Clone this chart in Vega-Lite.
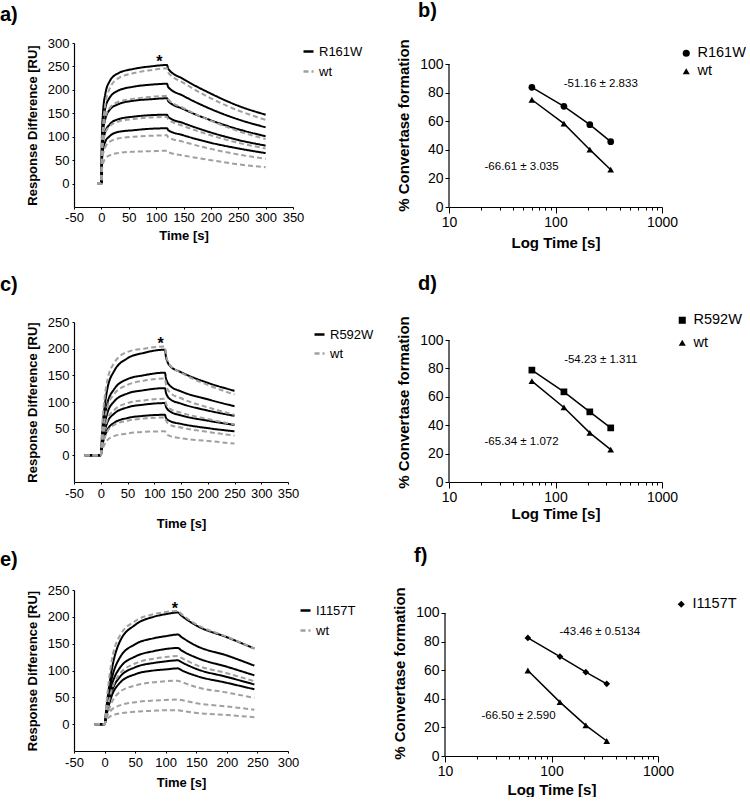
{
"$schema": "https://vega.github.io/schema/vega-lite/v6.json",
"background": "white",
"padding": {"left": 0, "top": 0, "right": 0, "bottom": 0},
"config": {
  "font": "Liberation Sans",
  "view": {"stroke": null},
  "axis": {"grid": false, "domainColor": "#000", "tickColor": "#000", "labelColor": "#000", "titleColor": "#000", "labelFont": "Liberation Sans", "titleFont": "Liberation Sans", "titleFontWeight": "bold", "labelFlush": false, "labelOverlap": false, "domainWidth": 1.2, "tickCount": 40},
  "legend": {"labelFont": "Liberation Sans", "labelColor": "#000"},
  "title": {"font": "Liberation Sans", "color": "#000"}
},
"datasets": {
"sprA": [
{"s":"R161W","c":"B1","t":-8,"v":0},{"s":"R161W","c":"B1","t":0,"v":0},{"s":"R161W","c":"B1","t":1,"v":101},{"s":"R161W","c":"B1","t":3,"v":152},{"s":"R161W","c":"B1","t":7,"v":190},{"s":"R161W","c":"B1","t":15,"v":218},{"s":"R161W","c":"B1","t":30,"v":235},{"s":"R161W","c":"B1","t":60,"v":245},{"s":"R161W","c":"B1","t":90,"v":250},{"s":"R161W","c":"B1","t":120,"v":253},{"s":"R161W","c":"B1","t":122,"v":245},{"s":"R161W","c":"B1","t":150,"v":223},{"s":"R161W","c":"B1","t":200,"v":192},{"s":"R161W","c":"B1","t":250,"v":166},{"s":"R161W","c":"B1","t":300,"v":147},
{"s":"R161W","c":"B2","t":-8,"v":0},{"s":"R161W","c":"B2","t":0,"v":0},{"s":"R161W","c":"B2","t":1,"v":85},{"s":"R161W","c":"B2","t":3,"v":128},{"s":"R161W","c":"B2","t":7,"v":160},{"s":"R161W","c":"B2","t":15,"v":183},{"s":"R161W","c":"B2","t":30,"v":198},{"s":"R161W","c":"B2","t":60,"v":207},{"s":"R161W","c":"B2","t":90,"v":211},{"s":"R161W","c":"B2","t":120,"v":213},{"s":"R161W","c":"B2","t":122,"v":206},{"s":"R161W","c":"B2","t":150,"v":187},{"s":"R161W","c":"B2","t":200,"v":159},{"s":"R161W","c":"B2","t":250,"v":137},{"s":"R161W","c":"B2","t":300,"v":120},
{"s":"R161W","c":"B3","t":-8,"v":0},{"s":"R161W","c":"B3","t":0,"v":0},{"s":"R161W","c":"B3","t":1,"v":73},{"s":"R161W","c":"B3","t":3,"v":109},{"s":"R161W","c":"B3","t":7,"v":137},{"s":"R161W","c":"B3","t":15,"v":157},{"s":"R161W","c":"B3","t":30,"v":169},{"s":"R161W","c":"B3","t":60,"v":177},{"s":"R161W","c":"B3","t":90,"v":180},{"s":"R161W","c":"B3","t":120,"v":182},{"s":"R161W","c":"B3","t":122,"v":176},{"s":"R161W","c":"B3","t":150,"v":159},{"s":"R161W","c":"B3","t":200,"v":135},{"s":"R161W","c":"B3","t":250,"v":116},{"s":"R161W","c":"B3","t":300,"v":101},
{"s":"R161W","c":"B4","t":-8,"v":0},{"s":"R161W","c":"B4","t":0,"v":0},{"s":"R161W","c":"B4","t":1,"v":59},{"s":"R161W","c":"B4","t":3,"v":88},{"s":"R161W","c":"B4","t":7,"v":110},{"s":"R161W","c":"B4","t":15,"v":126},{"s":"R161W","c":"B4","t":30,"v":137},{"s":"R161W","c":"B4","t":60,"v":143},{"s":"R161W","c":"B4","t":90,"v":146},{"s":"R161W","c":"B4","t":120,"v":147},{"s":"R161W","c":"B4","t":122,"v":142},{"s":"R161W","c":"B4","t":150,"v":129},{"s":"R161W","c":"B4","t":200,"v":109},{"s":"R161W","c":"B4","t":250,"v":93},{"s":"R161W","c":"B4","t":300,"v":81},
{"s":"R161W","c":"B5","t":-8,"v":0},{"s":"R161W","c":"B5","t":0,"v":0},{"s":"R161W","c":"B5","t":1,"v":47},{"s":"R161W","c":"B5","t":3,"v":71},{"s":"R161W","c":"B5","t":7,"v":89},{"s":"R161W","c":"B5","t":15,"v":101},{"s":"R161W","c":"B5","t":30,"v":110},{"s":"R161W","c":"B5","t":60,"v":114},{"s":"R161W","c":"B5","t":90,"v":117},{"s":"R161W","c":"B5","t":120,"v":118},{"s":"R161W","c":"B5","t":122,"v":114},{"s":"R161W","c":"B5","t":150,"v":103},{"s":"R161W","c":"B5","t":200,"v":87},{"s":"R161W","c":"B5","t":250,"v":75},{"s":"R161W","c":"B5","t":300,"v":65},
{"s":"wt","c":"G1","t":-8,"v":0},{"s":"wt","c":"G1","t":0,"v":0},{"s":"wt","c":"G1","t":1,"v":74},{"s":"wt","c":"G1","t":3,"v":123},{"s":"wt","c":"G1","t":7,"v":167},{"s":"wt","c":"G1","t":15,"v":202},{"s":"wt","c":"G1","t":30,"v":224},{"s":"wt","c":"G1","t":60,"v":236},{"s":"wt","c":"G1","t":90,"v":242},{"s":"wt","c":"G1","t":120,"v":246},{"s":"wt","c":"G1","t":122,"v":237},{"s":"wt","c":"G1","t":150,"v":215},{"s":"wt","c":"G1","t":200,"v":182},{"s":"wt","c":"G1","t":250,"v":156},{"s":"wt","c":"G1","t":300,"v":136},
{"s":"wt","c":"G2","t":-8,"v":0},{"s":"wt","c":"G2","t":0,"v":0},{"s":"wt","c":"G2","t":1,"v":75},{"s":"wt","c":"G2","t":3,"v":112},{"s":"wt","c":"G2","t":7,"v":140},{"s":"wt","c":"G2","t":15,"v":161},{"s":"wt","c":"G2","t":30,"v":174},{"s":"wt","c":"G2","t":60,"v":181},{"s":"wt","c":"G2","t":90,"v":185},{"s":"wt","c":"G2","t":120,"v":187},{"s":"wt","c":"G2","t":122,"v":180},{"s":"wt","c":"G2","t":150,"v":161},{"s":"wt","c":"G2","t":200,"v":134},{"s":"wt","c":"G2","t":250,"v":112},{"s":"wt","c":"G2","t":300,"v":95},
{"s":"wt","c":"G3","t":-8,"v":0},{"s":"wt","c":"G3","t":0,"v":0},{"s":"wt","c":"G3","t":1,"v":57},{"s":"wt","c":"G3","t":3,"v":85},{"s":"wt","c":"G3","t":7,"v":107},{"s":"wt","c":"G3","t":15,"v":122},{"s":"wt","c":"G3","t":30,"v":132},{"s":"wt","c":"G3","t":60,"v":138},{"s":"wt","c":"G3","t":90,"v":141},{"s":"wt","c":"G3","t":120,"v":142},{"s":"wt","c":"G3","t":122,"v":137},{"s":"wt","c":"G3","t":150,"v":123},{"s":"wt","c":"G3","t":200,"v":103},{"s":"wt","c":"G3","t":250,"v":87},{"s":"wt","c":"G3","t":300,"v":75},
{"s":"wt","c":"G4","t":-8,"v":0},{"s":"wt","c":"G4","t":0,"v":0},{"s":"wt","c":"G4","t":1,"v":41},{"s":"wt","c":"G4","t":3,"v":62},{"s":"wt","c":"G4","t":7,"v":77},{"s":"wt","c":"G4","t":15,"v":89},{"s":"wt","c":"G4","t":30,"v":96},{"s":"wt","c":"G4","t":60,"v":100},{"s":"wt","c":"G4","t":90,"v":102},{"s":"wt","c":"G4","t":120,"v":103},{"s":"wt","c":"G4","t":122,"v":99},{"s":"wt","c":"G4","t":150,"v":89},{"s":"wt","c":"G4","t":200,"v":74},{"s":"wt","c":"G4","t":250,"v":62},{"s":"wt","c":"G4","t":300,"v":53},
{"s":"wt","c":"G5","t":-8,"v":0},{"s":"wt","c":"G5","t":0,"v":0},{"s":"wt","c":"G5","t":1,"v":28},{"s":"wt","c":"G5","t":3,"v":42},{"s":"wt","c":"G5","t":7,"v":53},{"s":"wt","c":"G5","t":15,"v":60},{"s":"wt","c":"G5","t":30,"v":65},{"s":"wt","c":"G5","t":60,"v":68},{"s":"wt","c":"G5","t":90,"v":69},{"s":"wt","c":"G5","t":120,"v":70},{"s":"wt","c":"G5","t":122,"v":67},{"s":"wt","c":"G5","t":150,"v":60},{"s":"wt","c":"G5","t":200,"v":50},{"s":"wt","c":"G5","t":250,"v":41},{"s":"wt","c":"G5","t":300,"v":35}
],
"sprC": [
{"s":"R592W","c":"B1","t":-30,"v":0},{"s":"R592W","c":"B1","t":0,"v":0},{"s":"R592W","c":"B1","t":3,"v":50},{"s":"R592W","c":"B1","t":7,"v":89},{"s":"R592W","c":"B1","t":12,"v":123},{"s":"R592W","c":"B1","t":25,"v":158},{"s":"R592W","c":"B1","t":50,"v":182},{"s":"R592W","c":"B1","t":80,"v":192},{"s":"R592W","c":"B1","t":120,"v":198},{"s":"R592W","c":"B1","t":122,"v":184},{"s":"R592W","c":"B1","t":130,"v":167},{"s":"R592W","c":"B1","t":150,"v":156},{"s":"R592W","c":"B1","t":200,"v":136},{"s":"R592W","c":"B1","t":250,"v":121},
{"s":"R592W","c":"B2","t":-30,"v":0},{"s":"R592W","c":"B2","t":0,"v":0},{"s":"R592W","c":"B2","t":3,"v":39},{"s":"R592W","c":"B2","t":7,"v":70},{"s":"R592W","c":"B2","t":12,"v":96},{"s":"R592W","c":"B2","t":25,"v":124},{"s":"R592W","c":"B2","t":50,"v":143},{"s":"R592W","c":"B2","t":80,"v":150},{"s":"R592W","c":"B2","t":120,"v":155},{"s":"R592W","c":"B2","t":122,"v":144},{"s":"R592W","c":"B2","t":130,"v":130},{"s":"R592W","c":"B2","t":150,"v":120},{"s":"R592W","c":"B2","t":200,"v":105},{"s":"R592W","c":"B2","t":250,"v":92},
{"s":"R592W","c":"B3","t":-30,"v":0},{"s":"R592W","c":"B3","t":0,"v":0},{"s":"R592W","c":"B3","t":3,"v":32},{"s":"R592W","c":"B3","t":7,"v":57},{"s":"R592W","c":"B3","t":12,"v":78},{"s":"R592W","c":"B3","t":25,"v":101},{"s":"R592W","c":"B3","t":50,"v":116},{"s":"R592W","c":"B3","t":80,"v":122},{"s":"R592W","c":"B3","t":120,"v":126},{"s":"R592W","c":"B3","t":122,"v":117},{"s":"R592W","c":"B3","t":130,"v":105},{"s":"R592W","c":"B3","t":150,"v":97},{"s":"R592W","c":"B3","t":200,"v":84},{"s":"R592W","c":"B3","t":250,"v":74},
{"s":"R592W","c":"B4","t":-30,"v":0},{"s":"R592W","c":"B4","t":0,"v":0},{"s":"R592W","c":"B4","t":3,"v":25},{"s":"R592W","c":"B4","t":7,"v":44},{"s":"R592W","c":"B4","t":12,"v":61},{"s":"R592W","c":"B4","t":25,"v":78},{"s":"R592W","c":"B4","t":50,"v":90},{"s":"R592W","c":"B4","t":80,"v":95},{"s":"R592W","c":"B4","t":120,"v":98},{"s":"R592W","c":"B4","t":122,"v":91},{"s":"R592W","c":"B4","t":130,"v":82},{"s":"R592W","c":"B4","t":150,"v":75},{"s":"R592W","c":"B4","t":200,"v":65},{"s":"R592W","c":"B4","t":250,"v":57},
{"s":"R592W","c":"B5","t":-30,"v":0},{"s":"R592W","c":"B5","t":0,"v":0},{"s":"R592W","c":"B5","t":3,"v":19},{"s":"R592W","c":"B5","t":7,"v":34},{"s":"R592W","c":"B5","t":12,"v":47},{"s":"R592W","c":"B5","t":25,"v":61},{"s":"R592W","c":"B5","t":50,"v":70},{"s":"R592W","c":"B5","t":80,"v":74},{"s":"R592W","c":"B5","t":120,"v":76},{"s":"R592W","c":"B5","t":122,"v":70},{"s":"R592W","c":"B5","t":130,"v":64},{"s":"R592W","c":"B5","t":150,"v":59},{"s":"R592W","c":"B5","t":200,"v":51},{"s":"R592W","c":"B5","t":250,"v":45},
{"s":"wt","c":"G1","t":-30,"v":0},{"s":"wt","c":"G1","t":0,"v":0},{"s":"wt","c":"G1","t":3,"v":61},{"s":"wt","c":"G1","t":7,"v":106},{"s":"wt","c":"G1","t":12,"v":139},{"s":"wt","c":"G1","t":25,"v":173},{"s":"wt","c":"G1","t":50,"v":194},{"s":"wt","c":"G1","t":80,"v":200},{"s":"wt","c":"G1","t":120,"v":204},{"s":"wt","c":"G1","t":122,"v":188},{"s":"wt","c":"G1","t":130,"v":168},{"s":"wt","c":"G1","t":150,"v":155},{"s":"wt","c":"G1","t":200,"v":132},{"s":"wt","c":"G1","t":250,"v":114},
{"s":"wt","c":"G2","t":-30,"v":0},{"s":"wt","c":"G2","t":0,"v":0},{"s":"wt","c":"G2","t":3,"v":36},{"s":"wt","c":"G2","t":7,"v":65},{"s":"wt","c":"G2","t":12,"v":89},{"s":"wt","c":"G2","t":25,"v":115},{"s":"wt","c":"G2","t":50,"v":132},{"s":"wt","c":"G2","t":80,"v":140},{"s":"wt","c":"G2","t":120,"v":144},{"s":"wt","c":"G2","t":122,"v":132},{"s":"wt","c":"G2","t":130,"v":117},{"s":"wt","c":"G2","t":150,"v":107},{"s":"wt","c":"G2","t":200,"v":90},{"s":"wt","c":"G2","t":250,"v":76},
{"s":"wt","c":"G3","t":-30,"v":0},{"s":"wt","c":"G3","t":0,"v":0},{"s":"wt","c":"G3","t":3,"v":27},{"s":"wt","c":"G3","t":7,"v":48},{"s":"wt","c":"G3","t":12,"v":66},{"s":"wt","c":"G3","t":25,"v":85},{"s":"wt","c":"G3","t":50,"v":98},{"s":"wt","c":"G3","t":80,"v":103},{"s":"wt","c":"G3","t":120,"v":106},{"s":"wt","c":"G3","t":122,"v":97},{"s":"wt","c":"G3","t":130,"v":87},{"s":"wt","c":"G3","t":150,"v":80},{"s":"wt","c":"G3","t":200,"v":68},{"s":"wt","c":"G3","t":250,"v":58},
{"s":"wt","c":"G4","t":-30,"v":0},{"s":"wt","c":"G4","t":0,"v":0},{"s":"wt","c":"G4","t":3,"v":18},{"s":"wt","c":"G4","t":7,"v":32},{"s":"wt","c":"G4","t":12,"v":44},{"s":"wt","c":"G4","t":25,"v":57},{"s":"wt","c":"G4","t":50,"v":65},{"s":"wt","c":"G4","t":80,"v":69},{"s":"wt","c":"G4","t":120,"v":71},{"s":"wt","c":"G4","t":122,"v":65},{"s":"wt","c":"G4","t":130,"v":57},{"s":"wt","c":"G4","t":150,"v":52},{"s":"wt","c":"G4","t":200,"v":44},{"s":"wt","c":"G4","t":250,"v":37},
{"s":"wt","c":"G5","t":-30,"v":0},{"s":"wt","c":"G5","t":0,"v":0},{"s":"wt","c":"G5","t":3,"v":11},{"s":"wt","c":"G5","t":7,"v":20},{"s":"wt","c":"G5","t":12,"v":28},{"s":"wt","c":"G5","t":25,"v":36},{"s":"wt","c":"G5","t":50,"v":41},{"s":"wt","c":"G5","t":80,"v":44},{"s":"wt","c":"G5","t":120,"v":45},{"s":"wt","c":"G5","t":122,"v":41},{"s":"wt","c":"G5","t":130,"v":36},{"s":"wt","c":"G5","t":150,"v":32},{"s":"wt","c":"G5","t":200,"v":27},{"s":"wt","c":"G5","t":250,"v":22}
],
"sprE": [
{"s":"I1157T","c":"B1","t":-16,"v":0},{"s":"I1157T","c":"B1","t":0,"v":0},{"s":"I1157T","c":"B1","t":3,"v":31},{"s":"I1157T","c":"B1","t":10,"v":90},{"s":"I1157T","c":"B1","t":25,"v":154},{"s":"I1157T","c":"B1","t":50,"v":185},{"s":"I1157T","c":"B1","t":80,"v":200},{"s":"I1157T","c":"B1","t":100,"v":205},{"s":"I1157T","c":"B1","t":120,"v":208},{"s":"I1157T","c":"B1","t":125,"v":203},{"s":"I1157T","c":"B1","t":150,"v":184},{"s":"I1157T","c":"B1","t":200,"v":162},{"s":"I1157T","c":"B1","t":245,"v":141},
{"s":"I1157T","c":"B2","t":-16,"v":0},{"s":"I1157T","c":"B2","t":0,"v":0},{"s":"I1157T","c":"B2","t":3,"v":25},{"s":"I1157T","c":"B2","t":10,"v":75},{"s":"I1157T","c":"B2","t":25,"v":124},{"s":"I1157T","c":"B2","t":50,"v":149},{"s":"I1157T","c":"B2","t":80,"v":160},{"s":"I1157T","c":"B2","t":100,"v":164},{"s":"I1157T","c":"B2","t":120,"v":167},{"s":"I1157T","c":"B2","t":125,"v":163},{"s":"I1157T","c":"B2","t":150,"v":146},{"s":"I1157T","c":"B2","t":200,"v":128},{"s":"I1157T","c":"B2","t":245,"v":109},
{"s":"I1157T","c":"B3","t":-16,"v":0},{"s":"I1157T","c":"B3","t":0,"v":0},{"s":"I1157T","c":"B3","t":3,"v":21},{"s":"I1157T","c":"B3","t":10,"v":64},{"s":"I1157T","c":"B3","t":25,"v":105},{"s":"I1157T","c":"B3","t":50,"v":126},{"s":"I1157T","c":"B3","t":80,"v":136},{"s":"I1157T","c":"B3","t":100,"v":140},{"s":"I1157T","c":"B3","t":120,"v":142},{"s":"I1157T","c":"B3","t":125,"v":138},{"s":"I1157T","c":"B3","t":150,"v":124},{"s":"I1157T","c":"B3","t":200,"v":107},{"s":"I1157T","c":"B3","t":245,"v":91},
{"s":"I1157T","c":"B4","t":-16,"v":0},{"s":"I1157T","c":"B4","t":0,"v":0},{"s":"I1157T","c":"B4","t":3,"v":18},{"s":"I1157T","c":"B4","t":10,"v":54},{"s":"I1157T","c":"B4","t":25,"v":88},{"s":"I1157T","c":"B4","t":50,"v":106},{"s":"I1157T","c":"B4","t":80,"v":114},{"s":"I1157T","c":"B4","t":100,"v":117},{"s":"I1157T","c":"B4","t":120,"v":119},{"s":"I1157T","c":"B4","t":125,"v":116},{"s":"I1157T","c":"B4","t":150,"v":103},{"s":"I1157T","c":"B4","t":200,"v":88},{"s":"I1157T","c":"B4","t":245,"v":74},
{"s":"I1157T","c":"B5","t":-16,"v":0},{"s":"I1157T","c":"B5","t":0,"v":0},{"s":"I1157T","c":"B5","t":3,"v":16},{"s":"I1157T","c":"B5","t":10,"v":47},{"s":"I1157T","c":"B5","t":25,"v":77},{"s":"I1157T","c":"B5","t":50,"v":93},{"s":"I1157T","c":"B5","t":80,"v":100},{"s":"I1157T","c":"B5","t":100,"v":102},{"s":"I1157T","c":"B5","t":120,"v":104},{"s":"I1157T","c":"B5","t":125,"v":101},{"s":"I1157T","c":"B5","t":150,"v":90},{"s":"I1157T","c":"B5","t":200,"v":77},{"s":"I1157T","c":"B5","t":245,"v":65},
{"s":"wt","c":"G1","t":-16,"v":0},{"s":"wt","c":"G1","t":0,"v":0},{"s":"wt","c":"G1","t":3,"v":38},{"s":"wt","c":"G1","t":10,"v":106},{"s":"wt","c":"G1","t":25,"v":165},{"s":"wt","c":"G1","t":50,"v":192},{"s":"wt","c":"G1","t":80,"v":205},{"s":"wt","c":"G1","t":100,"v":209},{"s":"wt","c":"G1","t":120,"v":211},{"s":"wt","c":"G1","t":125,"v":206},{"s":"wt","c":"G1","t":150,"v":186},{"s":"wt","c":"G1","t":200,"v":163},{"s":"wt","c":"G1","t":245,"v":141},
{"s":"wt","c":"G2","t":-16,"v":0},{"s":"wt","c":"G2","t":0,"v":0},{"s":"wt","c":"G2","t":3,"v":19},{"s":"wt","c":"G2","t":10,"v":57},{"s":"wt","c":"G2","t":25,"v":94},{"s":"wt","c":"G2","t":50,"v":113},{"s":"wt","c":"G2","t":80,"v":122},{"s":"wt","c":"G2","t":100,"v":125},{"s":"wt","c":"G2","t":120,"v":127},{"s":"wt","c":"G2","t":125,"v":124},{"s":"wt","c":"G2","t":150,"v":110},{"s":"wt","c":"G2","t":200,"v":95},{"s":"wt","c":"G2","t":245,"v":80},
{"s":"wt","c":"G3","t":-16,"v":0},{"s":"wt","c":"G3","t":0,"v":0},{"s":"wt","c":"G3","t":3,"v":12},{"s":"wt","c":"G3","t":10,"v":36},{"s":"wt","c":"G3","t":25,"v":60},{"s":"wt","c":"G3","t":50,"v":72},{"s":"wt","c":"G3","t":80,"v":78},{"s":"wt","c":"G3","t":100,"v":80},{"s":"wt","c":"G3","t":120,"v":81},{"s":"wt","c":"G3","t":125,"v":79},{"s":"wt","c":"G3","t":150,"v":69},{"s":"wt","c":"G3","t":200,"v":59},{"s":"wt","c":"G3","t":245,"v":49},
{"s":"wt","c":"G4","t":-16,"v":0},{"s":"wt","c":"G4","t":0,"v":0},{"s":"wt","c":"G4","t":3,"v":12},{"s":"wt","c":"G4","t":10,"v":25},{"s":"wt","c":"G4","t":25,"v":35},{"s":"wt","c":"G4","t":50,"v":41},{"s":"wt","c":"G4","t":80,"v":44},{"s":"wt","c":"G4","t":100,"v":45},{"s":"wt","c":"G4","t":120,"v":46},{"s":"wt","c":"G4","t":125,"v":45},{"s":"wt","c":"G4","t":150,"v":39},{"s":"wt","c":"G4","t":200,"v":33},{"s":"wt","c":"G4","t":245,"v":27},
{"s":"wt","c":"G5","t":-16,"v":0},{"s":"wt","c":"G5","t":0,"v":0},{"s":"wt","c":"G5","t":3,"v":7},{"s":"wt","c":"G5","t":10,"v":15},{"s":"wt","c":"G5","t":25,"v":20},{"s":"wt","c":"G5","t":50,"v":23},{"s":"wt","c":"G5","t":80,"v":25},{"s":"wt","c":"G5","t":100,"v":26},{"s":"wt","c":"G5","t":120,"v":26},{"s":"wt","c":"G5","t":125,"v":25},{"s":"wt","c":"G5","t":150,"v":21},{"s":"wt","c":"G5","t":200,"v":17},{"s":"wt","c":"G5","t":245,"v":13}
],
"kinB": [
{"s":"R161W","t":60,"v":83.7},{"s":"R161W","t":120,"v":70.4},{"s":"R161W","t":210,"v":57.6},{"s":"R161W","t":330,"v":45.7},
{"s":"wt","t":60,"v":75},{"s":"wt","t":120,"v":58.3},{"s":"wt","t":210,"v":40.1},{"s":"wt","t":330,"v":26.1}
],
"kinD": [
{"s":"R592W","t":60,"v":78.8},{"s":"R592W","t":120,"v":63.5},{"s":"R592W","t":210,"v":49.4},{"s":"R592W","t":330,"v":38.1},
{"s":"wt","t":60,"v":71},{"s":"wt","t":120,"v":52.5},{"s":"wt","t":210,"v":34.6},{"s":"wt","t":330,"v":22.8}
],
"kinF": [
{"s":"I1157T","t":60,"v":82.6},{"s":"I1157T","t":120,"v":69.5},{"s":"I1157T","t":210,"v":58.6},{"s":"I1157T","t":330,"v":50.5},
{"s":"wt","t":60,"v":59.8},{"s":"wt","t":120,"v":37.7},{"s":"wt","t":210,"v":21.4},{"s":"wt","t":330,"v":10.5}
],
"yaxisLine": [{"x": 10, "y": 0, "y2": 100}]
},
"resolve": {"scale": {"x": "independent", "y": "independent", "color": "independent", "strokeDash": "independent", "shape": "independent"}, "legend": {"color": "independent", "strokeDash": "independent", "shape": "independent"}},
"spacing": 15,
"vconcat": [
{
 "spacing": 33,
 "resolve": {"scale": {"x": "independent", "y": "independent", "color": "independent", "strokeDash": "independent", "shape": "independent"}, "legend": {"color": "independent", "strokeDash": "independent", "shape": "independent"}},
 "hconcat": [
  {
   "width": 219, "height": 164,
   "title": {"text": "a)", "anchor": "start", "frame": "group", "dx": -74, "offset": 12, "fontSize": 20, "fontWeight": "bold"},
   "layer": [
    {"data": {"name": "sprA"},
     "mark": {"type": "line", "interpolate": "monotone", "strokeWidth": 2},
     "encoding": {
      "x": {"field": "t", "type": "quantitative", "scale": {"domain": [-50, 350], "nice": false, "zero": false},
            "axis": {"title": ["Time [s]", ""], "titleLineHeight": 16.5, "values": [-50,0,50,100,150,200,250,300,350], "tickCount": 40, "labelExpr": "'' + datum.value", "tickSize": 2, "labelFontSize": 13, "labelPadding": 2, "titleFontSize": 13, "titlePadding": 5}},
      "y": {"field": "v", "type": "quantitative", "scale": {"domain": [-50, 300], "nice": false, "zero": false},
            "axis": {"title": "Response Difference [RU]", "values": [0,50,100,150,200,250,300], "tickCount": 40, "tickSize": 2, "labelFontSize": 13, "labelPadding": 3, "titleFontSize": 13, "titlePadding": 8}},
      "detail": {"field": "c"},
      "color": {"field": "s", "type": "nominal", "scale": {"domain": ["R161W", "wt"], "range": ["#000000", "#a0a0a0"]},
                "legend": {"title": null, "orient": "none", "legendX": 228, "legendY": 2, "symbolType": "stroke", "symbolSize": 100, "symbolStrokeWidth": 2.5, "labelFontSize": 13, "rowPadding": 6}},
      "strokeDash": {"field": "s", "type": "nominal", "scale": {"domain": ["R161W", "wt"], "range": [[1, 0], [5, 3]]},
                "legend": {"title": null, "orient": "none", "legendX": 228, "legendY": 2, "symbolType": "stroke", "symbolSize": 100, "symbolStrokeWidth": 2.5, "labelFontSize": 13, "rowPadding": 6}}
     }},
    {"data": {"values": [{"t": 106, "v": 260}]},
     "mark": {"type": "text", "fontSize": 16, "fontWeight": "bold", "color": "#000"},
     "encoding": {"x": {"field": "t", "type": "quantitative"}, "y": {"field": "v", "type": "quantitative"}, "text": {"value": "*"}}}
   ]
  },
  {
   "width": 213, "height": 164,
   "title": {"text": "b)", "anchor": "start", "frame": "group", "dx": -31, "offset": 18, "fontSize": 20, "fontWeight": "bold"},
   "layer": [
    {"data": {"name": "yaxisLine"},
     "mark": {"type": "rule", "color": "#000", "strokeWidth": 1.2},
     "encoding": {"x": {"field": "x", "type": "quantitative"}, "y": {"field": "y", "type": "quantitative"}, "y2": {"field": "y2"}}},
    {"data": {"name": "kinB"},
     "mark": {"type": "line", "color": "#000", "strokeWidth": 1.5},
     "encoding": {
      "x": {"field": "t", "type": "quantitative", "scale": {"type": "log", "domain": [10, 1000], "nice": false},
            "axis": {"title": "Log Time [s]", "values": [10,20,30,40,50,60,70,80,90,100,200,300,400,500,600,700,800,900,1000], "tickCount": 40,
                     "labelExpr": "datum.value == 10 || datum.value == 100 || datum.value == 1000 ? '' + datum.value : ''",
                     "tickSize": {"condition": {"test": "datum.value == 10 || datum.value == 100 || datum.value == 1000", "value": 6}, "value": 3},
                     "labelFontSize": 14, "labelPadding": 2, "titleFontSize": 15, "titlePadding": 6}},
      "y": {"field": "v", "type": "quantitative", "scale": {"domain": [0, 114.69], "nice": false},
            "axis": {"title": "% Convertase formation", "values": [0,20,40,60,80,100], "tickCount": 40, "domain": false, "tickSize": 4, "labelFontSize": 14, "labelPadding": 2, "titleFontSize": 15, "titlePadding": 8}},
      "detail": {"field": "s"}
     }},
    {"data": {"name": "kinB"},
     "mark": {"type": "point", "filled": true, "size": 45, "color": "#000", "opacity": 1},
     "encoding": {
      "x": {"field": "t", "type": "quantitative"},
      "y": {"field": "v", "type": "quantitative"},
      "shape": {"field": "s", "type": "nominal", "scale": {"domain": ["R161W", "wt"], "range": ["circle", "triangle-up"]},
                "legend": {"title": null, "orient": "none", "legendX": 230, "legendY": 3, "symbolSize": 50, "symbolFillColor": "#000", "symbolStrokeColor": "#000", "labelFontSize": 14.5, "rowPadding": 3}}
     }},
    {"data": {"values": [{"t": 266, "v": 86, "label": "-51.16 ± 2.833"}, {"t": 48, "v": 28, "label": "-66.61 ± 3.035"}]},
     "mark": {"type": "text", "fontSize": 11.5, "color": "#000"},
     "encoding": {"x": {"field": "t", "type": "quantitative"}, "y": {"field": "v", "type": "quantitative"}, "text": {"field": "label"}}}
   ]
  }
 ]
},
{
 "spacing": 22,
 "resolve": {"scale": {"x": "independent", "y": "independent", "color": "independent", "strokeDash": "independent", "shape": "independent"}, "legend": {"color": "independent", "strokeDash": "independent", "shape": "independent"}},
 "hconcat": [
  {
   "width": 214, "height": 160,
   "title": {"text": "c)", "anchor": "start", "frame": "group", "dx": -74, "offset": 21.5, "fontSize": 20, "fontWeight": "bold"},
   "layer": [
    {"data": {"name": "sprC"},
     "mark": {"type": "line", "interpolate": "monotone", "strokeWidth": 2},
     "encoding": {
      "x": {"field": "t", "type": "quantitative", "scale": {"domain": [-50, 350], "nice": false, "zero": false},
            "axis": {"title": "Time [s]", "values": [-50,0,50,100,150,200,250,300,350], "tickCount": 40, "labelExpr": "'' + datum.value", "tickSize": 2, "labelFontSize": 13, "labelPadding": 3, "titleFontSize": 13, "titlePadding": 17}},
      "y": {"field": "v", "type": "quantitative", "scale": {"domain": [-50, 250], "nice": false, "zero": false},
            "axis": {"title": "Response Difference [RU]", "values": [0,50,100,150,200,250], "tickCount": 40, "tickSize": 2, "labelFontSize": 13, "labelPadding": 3, "titleFontSize": 13, "titlePadding": 8}},
      "detail": {"field": "c"},
      "color": {"field": "s", "type": "nominal", "scale": {"domain": ["R592W", "wt"], "range": ["#000000", "#a0a0a0"]},
                "legend": {"title": null, "orient": "none", "legendX": 239, "legendY": 6, "symbolType": "stroke", "symbolSize": 100, "symbolStrokeWidth": 2.5, "labelFontSize": 13, "rowPadding": 5}},
      "strokeDash": {"field": "s", "type": "nominal", "scale": {"domain": ["R592W", "wt"], "range": [[1, 0], [5, 3]]},
                "legend": {"title": null, "orient": "none", "legendX": 239, "legendY": 6, "symbolType": "stroke", "symbolSize": 100, "symbolStrokeWidth": 2.5, "labelFontSize": 13, "rowPadding": 5}}
     }},
    {"data": {"values": [{"t": 112, "v": 209}]},
     "mark": {"type": "text", "fontSize": 16, "fontWeight": "bold", "color": "#000"},
     "encoding": {"x": {"field": "t", "type": "quantitative"}, "y": {"field": "v", "type": "quantitative"}, "text": {"value": "*"}}}
   ]
  },
  {
   "width": 213, "height": 160,
   "title": {"text": "d)", "anchor": "start", "frame": "group", "dx": -31, "offset": 19, "fontSize": 20, "fontWeight": "bold"},
   "layer": [
    {"data": {"name": "yaxisLine"},
     "mark": {"type": "rule", "color": "#000", "strokeWidth": 1.2},
     "encoding": {"x": {"field": "x", "type": "quantitative"}, "y": {"field": "y", "type": "quantitative"}, "y2": {"field": "y2"}}},
    {"data": {"name": "kinD"},
     "mark": {"type": "line", "color": "#000", "strokeWidth": 1.5},
     "encoding": {
      "x": {"field": "t", "type": "quantitative", "scale": {"type": "log", "domain": [10, 1000], "nice": false},
            "axis": {"title": "Log Time [s]", "values": [10,20,30,40,50,60,70,80,90,100,200,300,400,500,600,700,800,900,1000], "tickCount": 40,
                     "labelExpr": "datum.value == 10 || datum.value == 100 || datum.value == 1000 ? '' + datum.value : ''",
                     "tickSize": {"condition": {"test": "datum.value == 10 || datum.value == 100 || datum.value == 1000", "value": 6}, "value": 3},
                     "labelFontSize": 14, "labelPadding": 2, "titleFontSize": 15, "titlePadding": 2}},
      "y": {"field": "v", "type": "quantitative", "scale": {"domain": [0, 112.68], "nice": false},
            "axis": {"title": "% Convertase formation", "values": [0,20,40,60,80,100], "tickCount": 40, "domain": false, "tickSize": 4, "labelFontSize": 14, "labelPadding": 2, "titleFontSize": 15, "titlePadding": 8}},
      "detail": {"field": "s"}
     }},
    {"data": {"name": "kinD"},
     "mark": {"type": "point", "filled": true, "size": 45, "color": "#000", "opacity": 1},
     "encoding": {
      "x": {"field": "t", "type": "quantitative"},
      "y": {"field": "v", "type": "quantitative"},
      "shape": {"field": "s", "type": "nominal", "scale": {"domain": ["R592W", "wt"], "range": ["square", "triangle-up"]},
                "legend": {"title": null, "orient": "none", "legendX": 226, "legendY": -9, "symbolSize": 50, "symbolFillColor": "#000", "symbolStrokeColor": "#000", "labelFontSize": 14.5, "rowPadding": 7.5}}
     }},
    {"data": {"values": [{"t": 266, "v": 86, "label": "-54.23 ± 1.311"}, {"t": 48, "v": 28, "label": "-65.34 ± 1.072"}]},
     "mark": {"type": "text", "fontSize": 11.5, "color": "#000"},
     "encoding": {"x": {"field": "t", "type": "quantitative"}, "y": {"field": "v", "type": "quantitative"}, "text": {"field": "label"}}}
   ]
  }
 ]
},
{
 "spacing": 36,
 "resolve": {"scale": {"x": "independent", "y": "independent", "color": "independent", "strokeDash": "independent", "shape": "independent"}, "legend": {"color": "independent", "strokeDash": "independent", "shape": "independent"}},
 "hconcat": [
  {
   "width": 214, "height": 161,
   "title": {"text": "e)", "anchor": "start", "frame": "group", "dx": -74, "offset": 14.5, "fontSize": 20, "fontWeight": "bold"},
   "layer": [
    {"data": {"name": "sprE"},
     "mark": {"type": "line", "interpolate": "monotone", "strokeWidth": 2},
     "encoding": {
      "x": {"field": "t", "type": "quantitative", "scale": {"domain": [-50, 300], "nice": false, "zero": false},
            "axis": {"title": "Time [s]", "values": [-50,0,50,100,150,200,250,300], "tickCount": 40, "labelExpr": "'' + datum.value", "tickSize": 2, "labelFontSize": 13, "labelPadding": 3, "titleFontSize": 13, "titlePadding": 7}},
      "y": {"field": "v", "type": "quantitative", "scale": {"domain": [-50, 250], "nice": false, "zero": false},
            "axis": {"title": "Response Difference [RU]", "values": [0,50,100,150,200,250], "tickCount": 40, "tickSize": 2, "labelFontSize": 13, "labelPadding": 3, "titleFontSize": 13, "titlePadding": 8}},
      "detail": {"field": "c"},
      "color": {"field": "s", "type": "nominal", "scale": {"domain": ["I1157T", "wt"], "range": ["#000000", "#a0a0a0"]},
                "legend": {"title": null, "orient": "none", "legendX": 225, "legendY": 14, "symbolType": "stroke", "symbolSize": 100, "symbolStrokeWidth": 2.5, "labelFontSize": 13, "rowPadding": 6}},
      "strokeDash": {"field": "s", "type": "nominal", "scale": {"domain": ["I1157T", "wt"], "range": [[1, 0], [5, 3]]},
                "legend": {"title": null, "orient": "none", "legendX": 225, "legendY": 14, "symbolType": "stroke", "symbolSize": 100, "symbolStrokeWidth": 2.5, "labelFontSize": 13, "rowPadding": 6}}
     }},
    {"data": {"values": [{"t": 115, "v": 215}]},
     "mark": {"type": "text", "fontSize": 16, "fontWeight": "bold", "color": "#000"},
     "encoding": {"x": {"field": "t", "type": "quantitative"}, "y": {"field": "v", "type": "quantitative"}, "text": {"value": "*"}}}
   ]
  },
  {
   "width": 213, "height": 166,
   "title": {"text": "f)", "anchor": "start", "frame": "group", "dx": -31, "offset": 21, "fontSize": 20, "fontWeight": "bold"},
   "layer": [
    {"data": {"name": "yaxisLine"},
     "mark": {"type": "rule", "color": "#000", "strokeWidth": 1.2},
     "encoding": {"x": {"field": "x", "type": "quantitative"}, "y": {"field": "y", "type": "quantitative"}, "y2": {"field": "y2"}}},
    {"data": {"name": "kinF"},
     "mark": {"type": "line", "color": "#000", "strokeWidth": 1.5},
     "encoding": {
      "x": {"field": "t", "type": "quantitative", "scale": {"type": "log", "domain": [10, 1000], "nice": false},
            "axis": {"title": "Log Time [s]", "values": [10,20,30,40,50,60,70,80,90,100,200,300,400,500,600,700,800,900,1000], "tickCount": 40,
                     "labelExpr": "datum.value == 10 || datum.value == 100 || datum.value == 1000 ? '' + datum.value : ''",
                     "tickSize": {"condition": {"test": "datum.value == 10 || datum.value == 100 || datum.value == 1000", "value": 6}, "value": 3},
                     "labelFontSize": 14, "labelPadding": 2, "titleFontSize": 15, "titlePadding": 4}},
      "y": {"field": "v", "type": "quantitative", "scale": {"domain": [0, 116.08], "nice": false},
            "axis": {"title": "% Convertase formation", "values": [0,20,40,60,80,100], "tickCount": 40, "domain": false, "tickSize": 4, "labelFontSize": 14, "labelPadding": 2, "titleFontSize": 15, "titlePadding": 8}},
      "detail": {"field": "s"}
     }},
    {"data": {"name": "kinF"},
     "mark": {"type": "point", "filled": true, "size": 45, "color": "#000", "opacity": 1},
     "encoding": {
      "x": {"field": "t", "type": "quantitative"},
      "y": {"field": "v", "type": "quantitative"},
      "shape": {"field": "s", "type": "nominal", "scale": {"domain": ["I1157T", "wt"], "range": ["diamond", "triangle-up"]},
                "legend": {"title": null, "orient": "none", "legendX": 229, "legendY": 7, "values": ["I1157T"], "symbolSize": 50, "symbolFillColor": "#000", "symbolStrokeColor": "#000", "labelFontSize": 14.5, "rowPadding": 4}}
     }},
    {"data": {"values": [{"t": 284, "v": 86.7, "label": "-43.46 ± 0.5134"}, {"t": 49, "v": 28, "label": "-66.50 ± 2.590"}]},
     "mark": {"type": "text", "fontSize": 11.5, "color": "#000"},
     "encoding": {"x": {"field": "t", "type": "quantitative"}, "y": {"field": "v", "type": "quantitative"}, "text": {"field": "label"}}}
   ]
  }
 ]
}
]
}
